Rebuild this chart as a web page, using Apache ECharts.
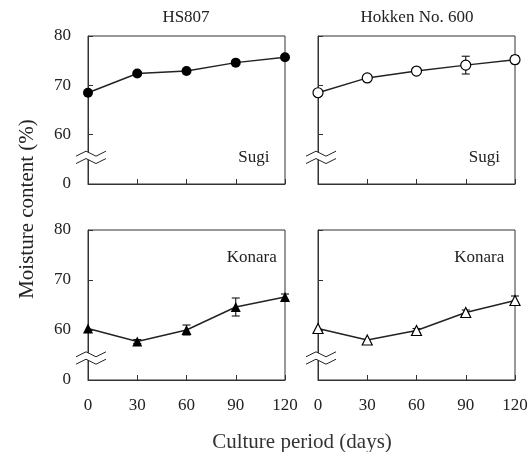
<!DOCTYPE html>
<html><head><meta charset="utf-8">
<script src="https://cdn.jsdelivr.net/npm/echarts@6/dist/echarts.min.js"></script>
<style>html,body{margin:0;padding:0;background:#fff}#c{width:532px;height:452px}</style>
</head><body><div id="c"></div>
<script>
// ---- data ----
const days = [0, 30, 60, 90, 120];
const hs807Sugi      = [68.5, 72.4, 72.9, 74.6, 75.7];
const hs807SugiErr   = [0, 0, 0, 0, 0];
const hokkenSugi     = [68.5, 71.5, 72.9, 74.1, 75.2];
const hokkenSugiErr  = [0, 0, 0, 1.8, 0.8];
const hs807Konara    = [60.3, 57.7, 60.0, 64.6, 66.6];
const hs807KonaraErr = [0, 0.4, 1.0, 1.8, 0.6];
const hokkenKonara   = [60.3, 58.0, 59.9, 63.5, 65.9];
const hokkenKonaraErr= [0, 0, 0.4, 0.5, 0.9];
const panelTitles = ['HS807', 'Hokken No. 600'];
const substrates = ['Sugi', 'Konara'];
const yTitle = 'Moisture content (%)';
const xTitle = 'Culture period (days)';
const yBottomLabel = '0';

// ---- layout ----
const FONT = '"Liberation Serif", "Times New Roman", serif';
const grids = [
  {left: 88, top: 36, width: 197, height: 148},
  {left: 318, top: 36, width: 197, height: 148},
  {left: 88, top: 230, width: 197, height: 150},
  {left: 318, top: 230, width: 197, height: 150}
];
const panelData = [
  {vals: hs807Sugi, errs: hs807SugiErr, symbol: 'circle', filled: true, size: 10},
  {vals: hokkenSugi, errs: hokkenSugiErr, symbol: 'circle', filled: false, size: 10},
  {vals: hs807Konara, errs: hs807KonaraErr, symbol: 'triangle', filled: true, size: 10},
  {vals: hokkenKonara, errs: hokkenKonaraErr, symbol: 'triangle', filled: false, size: 10}
];
const breakAt = [55.4, 55.4, 54.4, 54.4];
const labelPos = [[110.5, 55.4], [110.8, 55.4], [115, 74.4], [113.5, 74.4]];

const chart = echarts.init(document.getElementById('c'));

const xAxes = grids.map((g, i) => ({
  type: 'value', gridIndex: i, min: 0, max: 120, interval: 30,
  axisLine: {lineStyle: {color: '#333', width: 1}},
  axisTick: {inside: true, length: 5, lineStyle: {color: '#333'}},
  axisLabel: {show: i >= 2, fontFamily: FONT, fontSize: 17, color: '#222', margin: 17},
  splitLine: {show: false}
}));
const yAxes = grids.map((g, i) => ({
  type: 'value', gridIndex: i, min: 50, max: 80, interval: 10,
  axisLine: {lineStyle: {color: '#333', width: 1}},
  axisTick: {inside: true, length: 5, lineStyle: {color: '#333'}},
  axisLabel: {show: i % 2 === 0, fontFamily: FONT, fontSize: 17, color: '#222', margin: 17,
    formatter: v => v === 50 ? yBottomLabel : String(v)},
  splitLine: {show: false}
}));

const series = [];
panelData.forEach((p, i) => {
  series.push({
    type: 'custom', xAxisIndex: i, yAxisIndex: i, z: 1,
    encode: {x: 0, y: [1, 2]},
    data: days.map((d, j) => [d, p.vals[j] - p.errs[j], p.vals[j] + p.errs[j]]).filter((_, j) => p.errs[j] > 0),
    renderItem(params, api) {
      const x = api.value(0);
      const lo = api.coord([x, api.value(1)]);
      const hi = api.coord([x, api.value(2)]);
      const w = 4;
      const st = {stroke: '#111', lineWidth: 1.1};
      return {type: 'group', children: [
        {type: 'line', shape: {x1: lo[0], y1: lo[1], x2: hi[0], y2: hi[1]}, style: st},
        {type: 'line', shape: {x1: lo[0] - w, y1: lo[1], x2: lo[0] + w, y2: lo[1]}, style: st},
        {type: 'line', shape: {x1: hi[0] - w, y1: hi[1], x2: hi[0] + w, y2: hi[1]}, style: st}
      ]};
    }
  });
  series.push({
    type: 'line', xAxisIndex: i, yAxisIndex: i, z: 3, clip: false,
    data: days.map((d, j) => [d, p.vals[j]]),
    symbol: p.symbol, symbolSize: p.size, showSymbol: true,
    lineStyle: {color: '#222', width: 1.4},
    itemStyle: {color: p.filled ? '#000' : '#fff', borderColor: '#000', borderWidth: p.filled ? 0 : 1.2},
    emphasis: {disabled: true}, animation: false
  });
});

chart.setOption({
  animation: false,
  backgroundColor: '#fff',
  grid: grids.map(g => Object.assign({show: true, borderColor: '#333', borderWidth: 1, backgroundColor: 'transparent'}, g)),
  xAxis: xAxes, yAxis: yAxes, series
});

// ---- decorations ----
const graphics = [];
grids.forEach((g, i) => {
  const p = chart.convertToPixel({gridIndex: i}, [0, breakAt[i]]);
  const x = p[0], y = p[1];
  const xs = [-12, -2, 8, 18], amp = 2.5, gap = 3.7;
  const l1 = xs.map((dx, k) => [x + dx, y - gap + (k % 2 === 0 ? amp : -amp)]);
  const l2 = xs.map((dx, k) => [x + dx, y + gap + (k % 2 === 0 ? amp : -amp)]);
  graphics.push({type: 'polygon', shape: {points: l1.concat(l2.slice().reverse())}, style: {fill: '#fff'}, z: 100});
  graphics.push({type: 'polyline', shape: {points: l1}, style: {stroke: '#222', lineWidth: 1, fill: null}, z: 101});
  graphics.push({type: 'polyline', shape: {points: l2}, style: {stroke: '#222', lineWidth: 1, fill: null}, z: 101});
  const lp = chart.convertToPixel({gridIndex: i}, labelPos[i]);
  graphics.push({type: 'text', x: lp[0], y: lp[1], z: 102,
    style: {text: substrates[i < 2 ? 0 : 1], font: '17px ' + FONT, fill: '#222', align: 'right', verticalAlign: 'middle'}});
});
graphics.push({type: 'text', x: 186, y: 18, style: {text: panelTitles[0], font: '17px ' + FONT, fill: '#222', align: 'center', verticalAlign: 'middle'}});
graphics.push({type: 'text', x: 417, y: 18, style: {text: panelTitles[1], font: '17px ' + FONT, fill: '#222', align: 'center', verticalAlign: 'middle'}});
graphics.push({type: 'text', x: 27, y: 209, rotation: Math.PI / 2, style: {text: yTitle, font: '21px ' + FONT, fill: '#222', align: 'center', verticalAlign: 'middle'}});
graphics.push({type: 'text', x: 302, y: 442, style: {text: xTitle, font: '21px ' + FONT, fill: '#333', align: 'center', verticalAlign: 'middle'}});
chart.setOption({graphic: graphics});
</script></body></html>
